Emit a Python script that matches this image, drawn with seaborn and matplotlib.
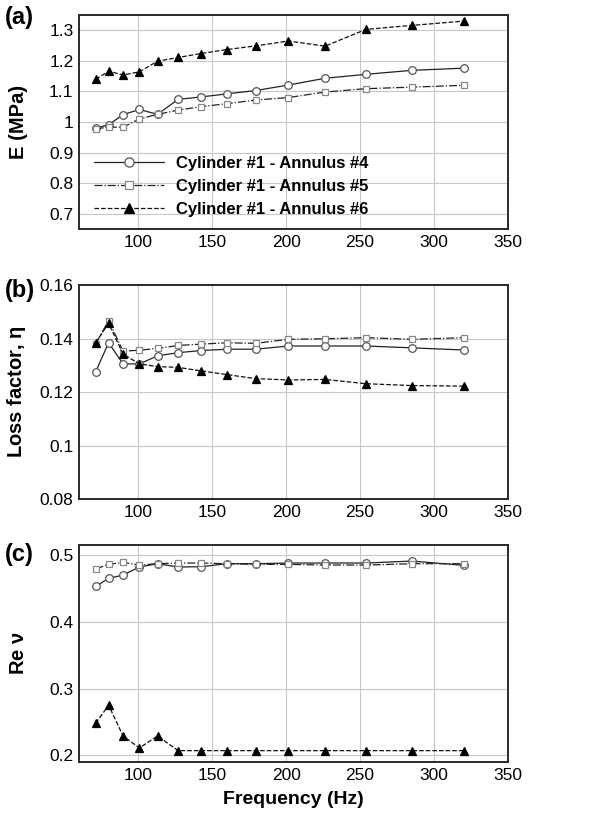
import numpy as np
import pandas as pd
import matplotlib
matplotlib.use("Agg")
import matplotlib.pyplot as plt
from matplotlib.ticker import AutoMinorLocator, MultipleLocator, FuncFormatter
import seaborn as sns

sns.set_style("white")
plt.rcParams["font.family"] = ["Liberation Sans", "DejaVu Sans"]
plt.rcParams["text.color"] = "black"

freq = [71.3, 80, 89.8, 100.8, 113.1, 127, 142.5, 160, 179.6, 201.6, 226.3, 254, 285.1, 320]
labels = ["Cylinder #1 - Annulus #4", "Cylinder #1 - Annulus #5", "Cylinder #1 - Annulus #6"]

# (a) storage modulus
E_a4 = [0.980, 0.991, 1.024, 1.041, 1.025, 1.074, 1.082, 1.092, 1.103, 1.121, 1.143, 1.156, 1.169, 1.176]
E_a5 = [0.978, 0.983, 0.983, 1.010, 1.025, 1.039, 1.050, 1.060, 1.072, 1.080, 1.098, 1.109, 1.114, 1.120]
E_a6 = [1.140, 1.166, 1.154, 1.164, 1.199, 1.211, 1.224, 1.237, 1.249, 1.265, 1.248, 1.303, 1.316, 1.330]

# (b) loss factor
eta_a4 = [0.1276, 0.1384, 0.1305, 0.1305, 0.1335, 0.1347, 0.1355, 0.1360, 0.1360, 0.1372, 0.1372, 0.1372, 0.1365, 0.1357]
eta_a5 = [0.1380, 0.1467, 0.1353, 0.1356, 0.1363, 0.1374, 0.1379, 0.1384, 0.1382, 0.1397, 0.1399, 0.1403, 0.1397, 0.1403]
eta_a6 = [0.1384, 0.1457, 0.1342, 0.1305, 0.1295, 0.1292, 0.1279, 0.1265, 0.1250, 0.1245, 0.1247, 0.1231, 0.1224, 0.1222]

# (c) Poisson ratio
nu_a4 = [0.453, 0.465, 0.470, 0.482, 0.487, 0.482, 0.4825, 0.487, 0.487, 0.488, 0.488, 0.488, 0.491, 0.4845]
nu_a5 = [0.479, 0.486, 0.489, 0.485, 0.487, 0.488, 0.488, 0.487, 0.486, 0.486, 0.485, 0.485, 0.487, 0.487]
nu_a6 = [0.248, 0.275, 0.229, 0.211, 0.229, 0.207, 0.207, 0.207, 0.207, 0.207, 0.207, 0.207, 0.207, 0.207]

styles = [
    dict(ls="-", marker="o", color="#222222", mfc="white", mec="#555555", ms=5.5, lw=0.9),
    dict(ls="-.", marker="s", color="#222222", mfc="white", mec="#888888", ms=5, lw=0.9),
    dict(ls="--", marker="^", color="#111111", mfc="black", mec="black", ms=6, lw=0.9),
]

fig = plt.figure(figsize=(6.12, 8.18), dpi=100)
W, H = 612, 818
boxes = [(15, 229), (285, 499), (545, 762)]
axes = [fig.add_axes([79 / W, 1 - b / H, (508 - 79) / W, (b - t) / H]) for t, b in boxes]

panels = [
    (axes[0], [E_a4, E_a5, E_a6], "E (MPa)", (0.65, 1.35), 0.1, "(a)", 0.99),
    (axes[1], [eta_a4, eta_a5, eta_a6], "Loss factor, $\\mathregular{\\eta}$", (0.08, 0.16), 0.02, "(b)", 0.975),
    (axes[2], [nu_a4, nu_a5, nu_a6], "Re $\\mathregular{\\nu}$", (0.19, 0.515), 0.1, "(c)", 0.955),
]

for ax, series, ylab, ylim, ystep, tag, ty in panels:
    for vals, lab, st in zip(series, labels, styles):
        df = pd.DataFrame({"freq": freq, "val": vals})
        sns.lineplot(data=df, x="freq", y="val", ax=ax, label=lab,
                     linestyle=st["ls"], marker=st["marker"], color=st["color"],
                     markerfacecolor=st["mfc"], markeredgecolor=st["mec"],
                     markersize=st["ms"], linewidth=st["lw"], markeredgewidth=0.9)
    ax.set_xlim(60, 350)
    ax.set_ylim(*ylim)
    ax.xaxis.set_major_locator(MultipleLocator(50))
    ax.xaxis.set_minor_locator(AutoMinorLocator(5))
    ax.yaxis.set_major_locator(MultipleLocator(ystep))
    ax.yaxis.set_minor_locator(AutoMinorLocator(5))
    ax.yaxis.set_major_formatter(FuncFormatter(lambda v, p: f"{v:g}"))
    ax.xaxis.set_major_formatter(FuncFormatter(lambda v, p: "" if v < 100 else f"{v:g}"))
    ax.grid(True, which="major", color="#c8c8c8", lw=0.8)
    ax.tick_params(which="both", direction="in", labelsize=12.5, colors="#333333", labelcolor="black")
    ax.tick_params(which="major", length=6, pad=4)
    ax.tick_params(which="minor", length=3)
    for sp in ax.spines.values():
        sp.set_color("#2a2a2a")
        sp.set_linewidth(1.4)
    ax.set_xlabel("")
    ax.set_ylabel(ylab, fontsize=14.5, fontweight="bold", color="black")
    ax.yaxis.set_label_coords(-0.119, 0.5)
    ax.text(-0.172, ty, tag, transform=ax.transAxes, fontsize=17,
            fontweight="bold", va="center", ha="left", color="black")
    if tag != "(a)":
        ax.get_legend().remove()

axes[0].get_legend().remove()
axes[0].legend(loc="lower left", bbox_to_anchor=(0.0, -0.015), frameon=False,
               handlelength=4.2, prop={"weight": "bold", "size": 12},
               labelspacing=0.5, handletextpad=0.7, labelcolor="black",
               markerscale=1.2)

axes[2].set_xlabel("Frequency (Hz)", fontsize=14, fontweight="bold", labelpad=6, color="black")

fig.savefig("out.png", dpi=100)
